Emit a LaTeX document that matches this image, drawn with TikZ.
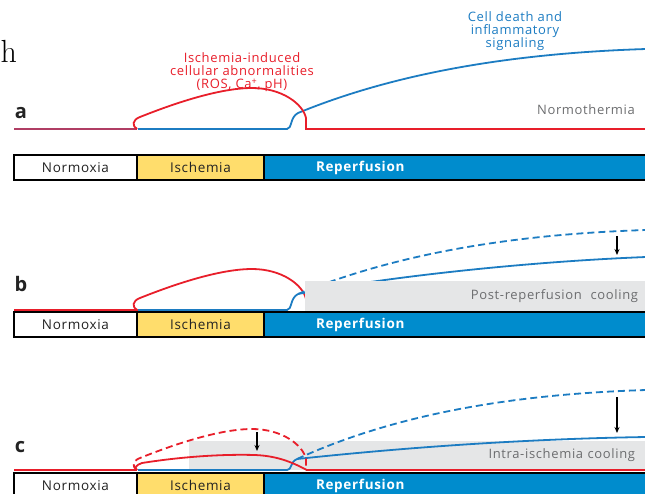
\documentclass[tikz,border=0pt]{standalone}
\usepackage{fontspec}
\newfontfamily\figfont{Open Sans}[LetterSpace=5]
\usetikzlibrary{positioning,arrows.meta}
\definecolor{curvered}{RGB}{232,30,42}
\definecolor{curveblue}{RGB}{28,124,194}
\definecolor{mixline}{RGB}{176,62,100}
\definecolor{barblue}{RGB}{0,140,205}
\definecolor{ischyellow}{RGB}{255,221,108}
\definecolor{coolgray}{RGB}{229,230,231}
\definecolor{labelgray}{RGB}{108,109,111}
\definecolor{textdark}{RGB}{35,35,35}
\tikzset{redline/.style={curvered, line width=1.8pt}, blueline/.style={curveblue, line width=1.8pt}, dashline/.style={dash pattern=on 7pt off 4pt},
  phasebox/.style={draw=black, line width=1.2pt, minimum height=25pt, inner sep=0pt, outer sep=0pt, text=textdark, font=\figfont\fontsize{13.5}{13.5}\selectfont},
  repbox/.style={phasebox, fill=barblue, text=white, font=\figfont\bfseries\fontsize{13.5}{13.5}\selectfont, inner xsep=52pt, text width=278pt, align=left},
  divider/.style={black, line width=2.6pt},
  coolbox/.style={fill=coolgray, inner ysep=0pt, outer sep=0pt, align=right, text=labelgray, anchor=north west, font=\figfont\fontsize{13}{13}\selectfont},
  paneltag/.style={text=textdark, font=\figfont\bfseries\fontsize{20}{20}\selectfont},
  note/.style={align=center, font=\figfont\fontsize{13}{13}\selectfont},
  drop/.style={-{Stealth[length=6pt,width=5pt]}, line width=1.1pt, black}}

\begin{document}
\begin{tikzpicture}[x=1pt, y=-1pt]
    \useasboundingbox (0,0) rectangle (645,493);
    \node[font=\fontsize{32}{32}\selectfont, anchor=base west, inner sep=0pt] (hcut) at (0.5,62) {h};
    % panel a
    \node[paneltag] (tagA) at (21,113) {a};
    \node[note, text=curvered] (ischNote) at (242,72) {Ischemia-induced\\cellular abnormalities\\(ROS, Ca\textsuperscript{+}, pH)};
    \node[note, text=curveblue] (deathNote) at (515,31) {Cell death and\\inflammatory\\signaling};
    \node[note, text=labelgray] (normoNote) at (586,110) {Normothermia};
    \begin{scope}[shift={(0,129)}]
        \draw[blueline] (138,0) -- (287,0) .. controls (292,0) and (290,-12) .. (298,-16) .. controls (400,-58) and (520,-76) .. (646,-80);
        \draw[mixline, line width=1.8pt] (14,0) -- (137,0);
        \draw[redline] (137,0) .. controls (132,-3) and (132,-9) .. (140,-12) .. controls (175,-26) and (220,-41) .. (252,-41) .. controls (282,-41) and (303,-25) .. (306,-11) -- (306,0) -- (646,0);
    \end{scope}
    \node[phasebox, fill=white, minimum width=123pt, anchor=north west] (normA) at (14,155) {Normoxia};
    \node[phasebox, fill=ischyellow, minimum width=127pt, right=0pt of normA] (ischA) {Ischemia};
    \node[repbox, right=0pt of ischA] (repA) {Reperfusion};
    \draw[divider] (normA.north east) -- (normA.south east);
    \draw[divider] (ischA.north east) -- (ischA.south east);

    % panel b
    \node[paneltag] (tagB) at (21,284) {b};
    \begin{scope}[shift={(0,310)}]
        \draw[redline] (14,0) -- (137,0) .. controls (132,-3) and (132,-9) .. (140,-12) .. controls (175,-26) and (220,-41) .. (252,-41) .. controls (282,-41) and (303,-25) .. (306,-11) -- (306,0) -- (646,0);
        \draw[blueline] (138,0) -- (287,0) .. controls (292,0) and (290,-12) .. (298,-16) coordinate (stepB);
        \draw[blueline, dashline] (stepB) .. controls (400,-58) and (520,-76) .. (646,-80);
        \draw[blueline] (stepB) .. controls (380,-32) and (520,-48) .. (646,-53);
        \node[coolbox, minimum width=341pt, minimum height=30pt, inner xsep=8pt, text width=325pt] (coolB) at (305,-29) {Post-reperfusion\ \ cooling};
        \coordinate (dropTopB) at (617,-74);
        \coordinate (dropEndB) at (617,-55);
        \draw[drop] (dropTopB) -- (dropEndB);
    \end{scope}
    \node[phasebox, fill=white, minimum width=123pt, anchor=north west] (normB) at (14,312) {Normoxia};
    \node[phasebox, fill=ischyellow, minimum width=127pt, right=0pt of normB] (ischB) {Ischemia};
    \node[repbox, right=0pt of ischB] (repB) {Reperfusion};
    \draw[divider] (normB.north east) -- (normB.south east);
    \draw[divider] (ischB.north east) -- (ischB.south east);

    % panel c
    \node[paneltag] (tagC) at (20,447) {c};
    \begin{scope}[shift={(0,470)}]
        \node[coolbox, minimum width=457pt, minimum height=29pt, inner xsep=11pt, text width=435pt] (coolC) at (189,-29) {Intra-ischemia cooling};
        \draw[blueline] (138,0) -- (287,0) .. controls (292,0) and (290,-8) .. (297,-11) coordinate (stepC);
        \draw[blueline, dashline] (stepC) .. controls (400,-58) and (520,-76) .. (646,-80);
        \draw[blueline] (stepC) .. controls (400,-22) and (520,-31) .. (646,-33);
        \draw[redline] (14,0) -- (137,0);
        \draw[redline] (306,0) -- (646,0);
        \draw[redline, dashline] (137,0) .. controls (132,-3) and (132,-9) .. (140,-12) .. controls (175,-26) and (220,-41) .. (252,-41) .. controls (282,-41) and (303,-25) .. (306,-11) -- (306,0);
        \draw[redline] (137,0) .. controls (134,-2) and (136,-5) .. (142,-7) .. controls (180,-13) and (220,-16) .. (255,-15) .. controls (280,-14) and (295,-6) .. (307,0);
        \coordinate (dropTopR) at (257,-38);
        \coordinate (dropEndR) at (257,-19);
        \draw[drop] (dropTopR) -- (dropEndR);
        \coordinate (dropTopC) at (617,-73);
        \coordinate (dropEndC) at (617,-37);
        \draw[drop] (dropTopC) -- (dropEndC);
    \end{scope}
    \node[phasebox, fill=white, minimum width=123pt, anchor=north west] (normC) at (14,473) {Normoxia};
    \node[phasebox, fill=ischyellow, minimum width=127pt, right=0pt of normC] (ischC) {Ischemia};
    \node[repbox, right=0pt of ischC] (repC) {Reperfusion};
    \draw[divider] (normC.north east) -- (normC.south east);
    \draw[divider] (ischC.north east) -- (ischC.south east);
\end{tikzpicture}
\end{document}
